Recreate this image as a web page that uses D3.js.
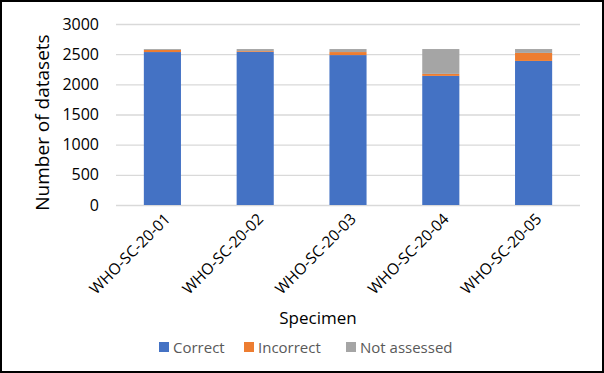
<!DOCTYPE html>
<html>
<head>
<meta charset="utf-8">
<script src="https://cdn.jsdelivr.net/npm/d3@7"></script>
<style>
  html, body { margin: 0; padding: 0; background: #fff; }
  svg { display: block; font-family: "Open Sans", sans-serif; }
</style>
</head>
<body>
<svg id="chart" width="604" height="373"></svg>
<script>
// data
const specimens = ["WHO-SC-20-01", "WHO-SC-20-02", "WHO-SC-20-03", "WHO-SC-20-04", "WHO-SC-20-05"];
const correct = [2535, 2540, 2485, 2140, 2388];
const incorrect = [35, 12, 50, 33, 133];
const notAssessed = [15, 33, 50, 412, 64];
const yTicks = [0, 500, 1000, 1500, 2000, 2500, 3000];
const seriesNames = ["Correct", "Incorrect", "Not assessed"];
const colors = ["#4472C4", "#ED7D31", "#A5A5A5"];

const svg = d3.select("#chart");
const W = 604, H = 373;
const margin = {top: 24, right: 24, bottom: 168, left: 116};

// frame
svg.append("rect")
  .attr("x", 1).attr("y", 1)
  .attr("width", W - 2).attr("height", H - 2)
  .attr("fill", "#fff").attr("stroke", "#000").attr("stroke-width", 2);

const rows = specimens.map((s, i) => ({
  specimen: s,
  "Correct": correct[i],
  "Incorrect": incorrect[i],
  "Not assessed": notAssessed[i]
}));
const stacked = d3.stack().keys(seriesNames)(rows);

const x = d3.scaleBand()
  .domain(specimens)
  .range([margin.left, W - margin.right])
  .paddingInner(0.6)
  .paddingOuter(0.3);

const y = d3.scaleLinear()
  .domain([0, 3000])
  .range([H - margin.bottom, margin.top]);

// gridlines + y labels
const yAxis = svg.append("g")
  .attr("class", "y-axis")
  .attr("transform", `translate(${margin.left},0)`)
  .call(d3.axisLeft(y).tickValues(yTicks)
    .tickSize(-(W - margin.left - margin.right))
    .tickPadding(17)
    .tickFormat(d3.format("d")));
yAxis.select(".domain").remove();
yAxis.selectAll("line").attr("stroke", "#d9d9d9").attr("stroke-width", 1.3);
yAxis.selectAll("text")
  .attr("font-size", 16).attr("fill", "#000")
  .attr("font-family", "Open Sans, sans-serif");

// bars
svg.append("g").selectAll("g")
  .data(stacked)
  .join("g")
  .attr("fill", (d, i) => colors[i])
  .selectAll("rect")
  .data(d => d)
  .join("rect")
  .attr("x", d => x(d.data.specimen))
  .attr("width", x.bandwidth())
  .attr("y", d => y(d[1]))
  .attr("height", d => y(d[0]) - y(d[1]));

// x labels
const xAxis = svg.append("g")
  .attr("transform", `translate(0,${H - margin.bottom})`)
  .call(d3.axisBottom(x).tickSize(0).tickPadding(0));
xAxis.select(".domain").remove();
xAxis.selectAll("text")
  .attr("font-size", 15.5).attr("fill", "#000")
  .attr("font-family", "Open Sans, sans-serif")
  .attr("text-anchor", "end")
  .attr("dy", null)
  .attr("y", 0)
  .attr("transform", "translate(9,15) rotate(-45)");

// axis titles
svg.append("text")
  .attr("transform", `translate(49,${(y(0) + y(3000)) / 2 + 8}) rotate(-90)`)
  .attr("text-anchor", "middle")
  .attr("font-size", 19)
  .attr("fill", "#000")
  .text("Number of datasets");

svg.append("text")
  .attr("x", 318).attr("y", 324)
  .attr("text-anchor", "middle")
  .attr("font-size", 17)
  .attr("fill", "#000")
  .text("Specimen");

// legend
const legendX = [159, 244, 346];
const legend = svg.append("g");
seriesNames.forEach((name, i) => {
  legend.append("rect")
    .attr("x", legendX[i]).attr("y", 342)
    .attr("width", 10).attr("height", 10)
    .attr("fill", colors[i]);
  legend.append("text")
    .attr("x", legendX[i] + 14).attr("y", 353)
    .attr("font-size", 15)
    .attr("fill", "#595959")
    .text(name);
});
</script>
</body>
</html>
